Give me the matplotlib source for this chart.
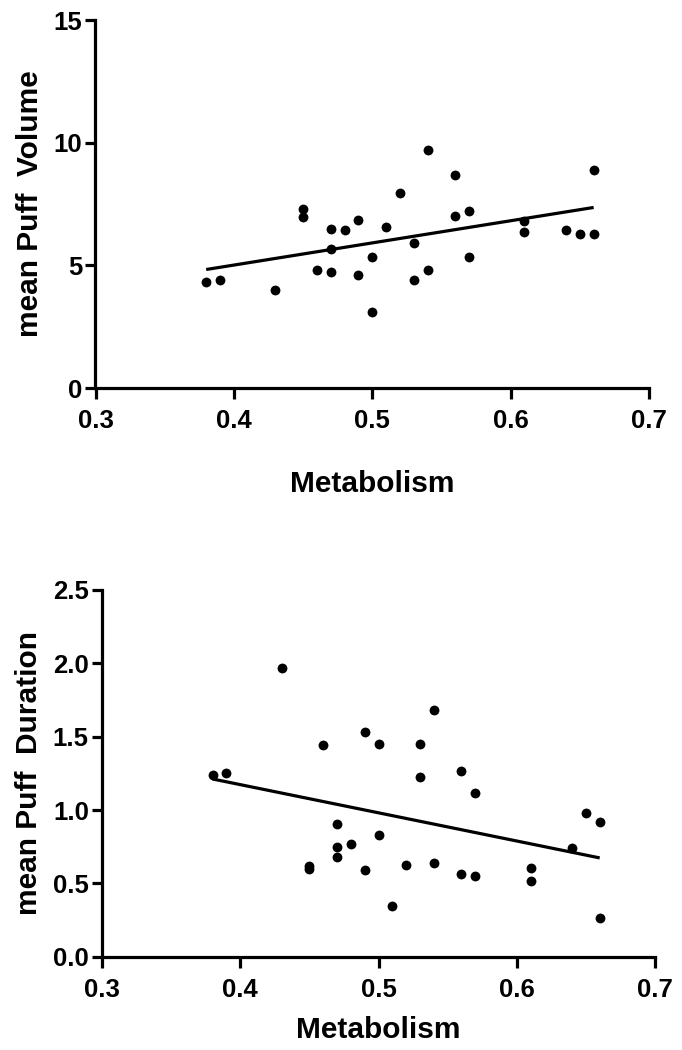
import numpy as np
import matplotlib
matplotlib.use("Agg")
import matplotlib.pyplot as plt

plt.rcParams['font.family'] = ['Liberation Sans', 'DejaVu Sans']
plt.rcParams['font.weight'] = 'bold'

# Data
metabolism_vol = [0.38, 0.39, 0.43, 0.45, 0.45, 0.46, 0.47, 0.47, 0.47, 0.48,
                  0.49, 0.49, 0.50, 0.50, 0.51, 0.52, 0.53, 0.53, 0.54, 0.54,
                  0.56, 0.56, 0.57, 0.57, 0.61, 0.61, 0.64, 0.65, 0.66, 0.66]
puff_volume = [4.34, 4.41, 3.99, 7.29, 6.95, 4.79, 6.49, 5.67, 4.73, 6.42,
               6.84, 4.60, 5.35, 3.10, 6.57, 7.96, 5.90, 4.41, 9.69, 4.83,
               8.69, 7.01, 7.22, 5.35, 6.79, 6.34, 6.46, 6.28, 6.28, 8.90]

metabolism_dur = [0.38, 0.39, 0.43, 0.45, 0.45, 0.46, 0.47, 0.47, 0.47, 0.48,
                  0.49, 0.49, 0.50, 0.50, 0.51, 0.52, 0.53, 0.53, 0.54, 0.54,
                  0.56, 0.56, 0.57, 0.57, 0.61, 0.61, 0.64, 0.65, 0.66, 0.66]
puff_duration = [1.24, 1.25, 1.97, 0.62, 0.60, 1.44, 0.905, 0.75, 0.68, 0.77,
                 1.53, 0.59, 1.45, 0.83, 0.345, 0.625, 1.45, 1.225, 1.68, 0.636,
                 1.266, 0.566, 1.116, 0.548, 0.607, 0.516, 0.739, 0.977, 0.916, 0.266]

x_ticks = [0.3, 0.4, 0.5, 0.6, 0.7]
x_ticklabels = ['0.3', '0.4', '0.5', '0.6', '0.7']
vol_ticks = [0, 5, 10, 15]
vol_ticklabels = ['0', '5', '10', '15']
dur_ticks = [0.0, 0.5, 1.0, 1.5, 2.0, 2.5]
dur_ticklabels = ['0.0', '0.5', '1.0', '1.5', '2.0', '2.5']

W, H = 682, 1050
fig = plt.figure(figsize=(W / 100, H / 100), dpi=100)


def px_axes(left, right, top, bottom):
    return fig.add_axes([left / W, 1 - bottom / H, (right - left) / W, (bottom - top) / H])


def style(ax, xt, xtl, yt, ytl, ylim, ylabel, xlab_off, ylab_off):
    ax.set_xlim(0.3, 0.7)
    ax.set_ylim(*ylim)
    for s in ['top', 'right']:
        ax.spines[s].set_visible(False)
    for s in ['left', 'bottom']:
        ax.spines[s].set_linewidth(2.3)
        ax.spines[s].set_capstyle('projecting')
    ax.set_xticks(xt)
    ax.set_xticklabels(xtl)
    ax.set_yticks(yt)
    ax.set_yticklabels(ytl)
    ax.tick_params(axis='x', length=8, width=2.3, pad=7, labelsize=18.5)
    ax.tick_params(axis='y', length=7, width=2.3, pad=2.5, labelsize=18.5)
    for lab in ax.get_xticklabels() + ax.get_yticklabels():
        lab.set_fontweight('bold')
    ax.set_xlabel('Metabolism', fontsize=21.5, fontweight='bold')
    ax.set_ylabel(ylabel, fontsize=21.5, fontweight='bold')
    ax.xaxis.label.set_va('center')
    ax.xaxis.set_label_coords(0.5, xlab_off)
    ax.yaxis.set_label_coords(ylab_off, 0.5)


def draw(ax, x, y):
    x = np.asarray(x)
    y = np.asarray(y)
    ax.scatter(x, y, s=50, color='black', zorder=3, clip_on=False, linewidths=0)
    k, b = np.polyfit(x, y, 1)
    xs = np.array([x.min(), x.max()])
    ax.plot(xs, k * xs + b, color='black', lw=2.3, solid_capstyle='butt', zorder=2)


ax1 = px_axes(95.5, 649, 20, 388)
draw(ax1, metabolism_vol, puff_volume)
style(ax1, x_ticks, x_ticklabels, vol_ticks, vol_ticklabels, (0, 15),
      'mean Puff  Volume', -(484 - 388) / 368, -(44 - 95.5) / 553.5 * -1)

ax2 = px_axes(102, 655, 590, 956.7)
draw(ax2, metabolism_dur, puff_duration)
style(ax2, x_ticks, x_ticklabels, dur_ticks, dur_ticklabels, (0, 2.5),
      'mean Puff  Duration', -(1030 - 956.7) / 366.7, -(43 - 102) / 553 * -1)

fig.savefig('out.png', dpi=100)
